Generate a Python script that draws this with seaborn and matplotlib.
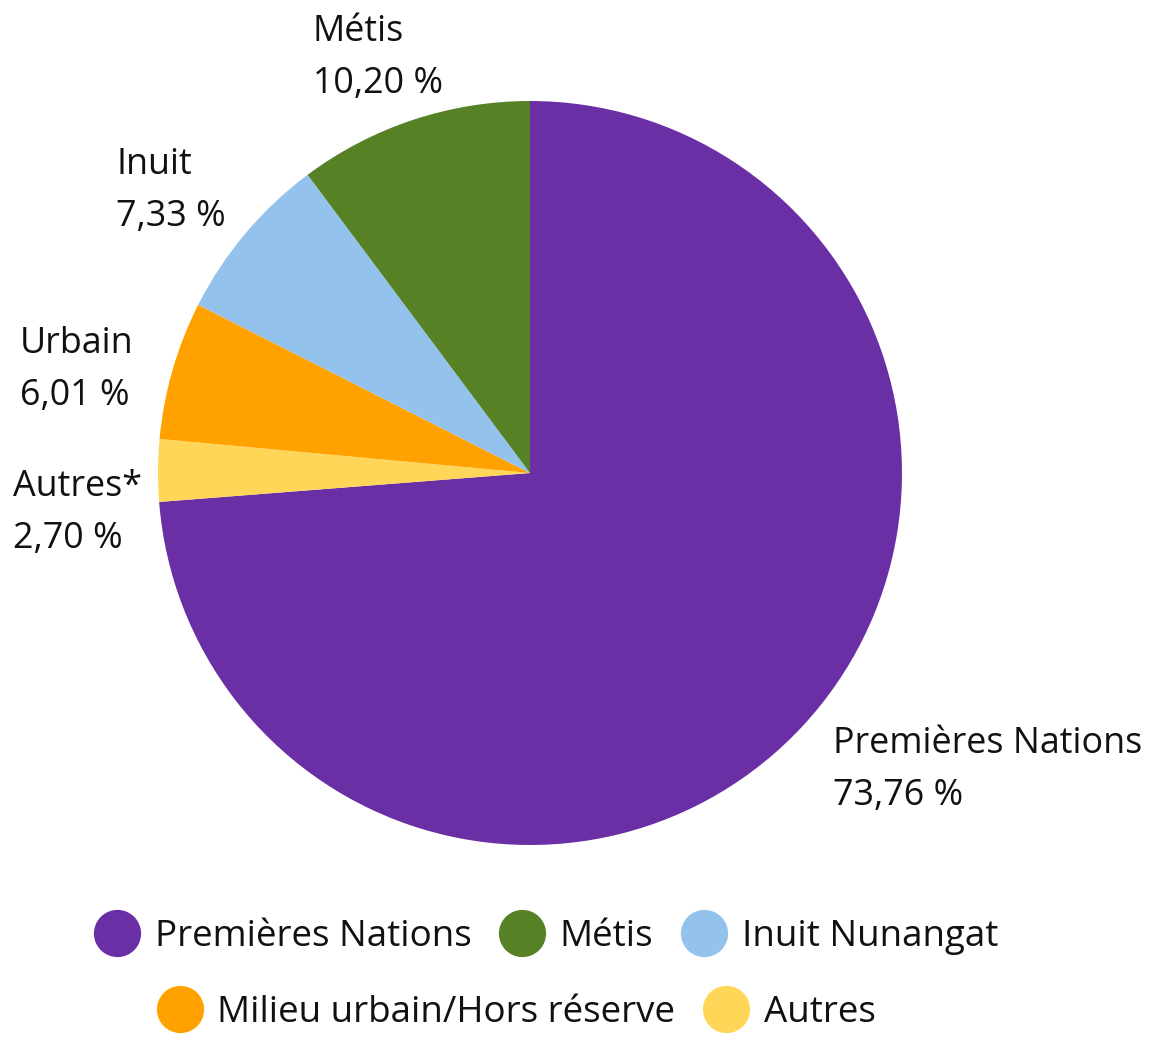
import matplotlib
matplotlib.use("Agg")
import matplotlib.pyplot as plt
from matplotlib.lines import Line2D
import seaborn as sns

# ---- data ----
categories = ["Premières Nations", "Autres", "Milieu urbain/Hors réserve", "Inuit Nunangat", "Métis"]
short_labels = ["Premières Nations", "Autres*", "Urbain", "Inuit", "Métis"]
values = [73.76, 2.70, 6.01, 7.33, 10.20]
value_labels = ["73,76 %", "2,70 %", "6,01 %", "7,33 %", "10,20 %"]
legend_order = ["Premières Nations", "Métis", "Inuit Nunangat", "Milieu urbain/Hors réserve", "Autres"]

colors = {
    "Premières Nations": "#6B2FA5",
    "Autres": "#FFD658",
    "Milieu urbain/Hors réserve": "#FFA200",
    "Inuit Nunangat": "#93C3EC",
    "Métis": "#568125",
}

sns.set_theme(style="white")
plt.rcParams["font.family"] = ["Open Sans", "DejaVu Sans"]

W, H = 1152, 1038
fig = plt.figure(figsize=(W / 100, H / 100), dpi=100)
ax = fig.add_axes([0, 0, 1, 1])

cx, cy, r = 530, H - 473, 372
ax.pie(values, colors=[colors[c] for c in categories], startangle=90,
       counterclock=False, radius=r, center=(cx, cy),
       wedgeprops=dict(linewidth=0))
ax.set_xlim(0, W)
ax.set_ylim(0, H)
ax.set_aspect("equal")
ax.axis("off")

# label layout (left x, first baseline from top), pixels
label_pos = {
    "Premières Nations": (833, 753),
    "Autres*": (13, 496),
    "Urbain": (20, 353),
    "Inuit": (116, 174),
    "Métis": (313, 41),
}
line_gap = 52
for name, val in zip(short_labels, value_labels):
    x, b = label_pos[name]
    ax.text(x, H - b, name, ha="left", va="baseline", fontsize=25.8, color="#111111")
    ax.text(x, H - b - line_gap, val, ha="left", va="baseline", fontsize=25.8, color="#111111")

def handles(names):
    return [Line2D([], [], marker="o", ls="", markersize=34, markeredgewidth=0,
                   color=colors[n], label=n) for n in names]

common = dict(frameon=False, fontsize=26.5, handlelength=1.25, handletextpad=0.4,
              columnspacing=0.75, borderpad=0, borderaxespad=0, labelcolor="#111111")
leg1 = fig.legend(handles=handles(legend_order[:3]), ncol=3, loc="center",
                  bbox_to_anchor=(546 / W, (H - 937) / H), **common)
leg2 = fig.legend(handles=handles(legend_order[3:]), ncol=2, loc="center",
                  bbox_to_anchor=(516 / W, (H - 1013) / H), **common)

fig.savefig("out.png", dpi=100, facecolor="white")
